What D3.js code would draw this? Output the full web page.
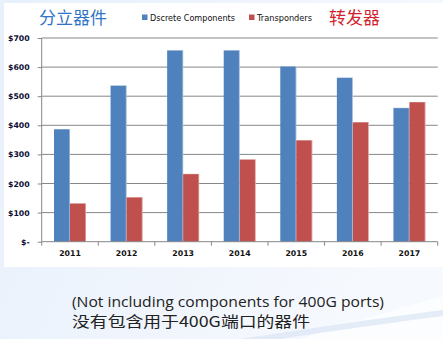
<!DOCTYPE html>
<html>
<head>
<meta charset="utf-8">
<script src="https://cdn.jsdelivr.net/npm/d3@7"></script>
<style>
  html, body { margin: 0; padding: 0; }
  body { width: 443px; height: 339px; overflow: hidden; }
  svg { display: block; }
</style>
</head>
<body>
<svg id="chart" width="443" height="339"></svg>
<script>
// Annual market size (US$ millions)
const years = ["2011", "2012", "2013", "2014", "2015", "2016", "2017"];
const discrete = [387, 537, 658, 658, 603, 564, 460];
const transponders = [132, 153, 233, 283, 349, 411, 480];
const seriesNames = ["Dscrete Components", "Transponders"];
const seriesColors = ["#4f81bd", "#c0504d"];
const yTicks = [0, 100, 200, 300, 400, 500, 600, 700];

const svg = d3.select("#chart");
const W = 443, H = 339;

// slide background
const defs = svg.append("defs");
const bg = defs.append("linearGradient").attr("id", "bg")
  .attr("x1", "0").attr("y1", "0").attr("x2", "1").attr("y2", "0.3");
bg.append("stop").attr("offset", "0").attr("stop-color", "#e8f0fb");
bg.append("stop").attr("offset", "1").attr("stop-color", "#f6f9fe");
svg.append("rect").attr("width", W).attr("height", H).attr("fill", "url(#bg)");
// light swoosh at the bottom right
svg.append("path")
  .attr("d", "M300,339 C360,320 410,305 443,296 L443,339 Z")
  .attr("fill", "#fbfdff");
svg.append("path")
  .attr("d", "M240,339 C300,330 380,318 443,310 L443,316 C380,324 320,333 280,339 Z")
  .attr("fill", "#dde7f5").attr("opacity", 0.8);

// chart panel
svg.append("rect").attr("x", 4).attr("y", 3).attr("width", W - 4).attr("height", 264)
  .attr("fill", "#ffffff");

const plot = { left: 41.7, right: 437.7, top: 38, bottom: 241.7 };

const x = d3.scaleBand().domain(years)
  .range([plot.left, plot.right])
  .paddingInner(0.435).paddingOuter(0.2175);
const xs = d3.scaleBand().domain([0, 1]).range([0, x.bandwidth()]);
const y = d3.scaleLinear().domain([0, 700]).range([plot.bottom, plot.top]);

// horizontal gridlines
svg.append("g").selectAll("line").data(yTicks.slice(1)).join("line")
  .attr("x1", plot.left).attr("x2", plot.right)
  .attr("y1", d => y(d)).attr("y2", d => y(d))
  .attr("stroke", "#878787").attr("stroke-width", 1);

// bars
const groups = svg.append("g").selectAll("g").data(years).join("g")
  .attr("transform", d => `translate(${x(d)},0)`);
[discrete, transponders].forEach((vals, si) => {
  groups.append("rect")
    .attr("x", xs(si))
    .attr("width", xs.bandwidth())
    .attr("y", (d, i) => y(vals[i]))
    .attr("height", (d, i) => y(0) - y(vals[i]))
    .attr("fill", seriesColors[si]);
  // soft highlight on the right edge and top of each bar
  groups.append("rect")
    .attr("x", xs(si) + xs.bandwidth() - 0.8)
    .attr("width", 1)
    .attr("y", (d, i) => y(vals[i]))
    .attr("height", (d, i) => y(0) - y(vals[i]))
    .attr("fill", "#ffffff").attr("opacity", 0.45);
  groups.append("rect")
    .attr("x", xs(si))
    .attr("width", xs.bandwidth())
    .attr("y", (d, i) => y(vals[i]) - 0.5)
    .attr("height", 1)
    .attr("fill", "#ffffff").attr("opacity", 0.35);
});

// y axis
const yAxis = d3.axisLeft(y).tickValues(yTicks).tickSize(4).tickPadding(8)
  .tickFormat(d => d === 0 ? "$-" : "$" + d);
const gy = svg.append("g").attr("transform", `translate(${plot.left},0)`).call(yAxis);
gy.select(".domain").attr("stroke", "#878787").attr("d", `M0,${plot.top}V${plot.bottom}`);
gy.selectAll(".tick line").attr("stroke", "#878787");
gy.selectAll("text").attr("fill", "#0d0d33")
  .style("font-family", "'DejaVu Sans', sans-serif").style("font-size", "7.8px")
  .style("font-weight", "bold");

// x axis
const xAxis = d3.axisBottom(x).tickSize(0).tickPadding(9);
const gx = svg.append("g").attr("transform", `translate(0,${plot.bottom})`).call(xAxis);
gx.select(".domain").attr("stroke", "#878787").attr("d", `M${plot.left},0H${plot.right}`);
gx.selectAll("text").attr("fill", "#111111")
  .style("font-family", "'DejaVu Sans', sans-serif").style("font-size", "7.8px")
  .style("font-weight", "bold");
// category boundary ticks
const bounds = years.map(d => x(d) - x.step() * x.paddingOuter()).concat([plot.right]);
gx.append("g").selectAll("line").data(bounds).join("line")
  .attr("x1", d => d).attr("x2", d => d).attr("y1", 0).attr("y2", 4)
  .attr("stroke", "#878787");

// titles and legend
svg.append("text").attr("x", 39).attr("y", 24)
  .attr("fill", "#2f74c6")
  .style("font-family", "'Noto Sans CJK SC', sans-serif").style("font-size", "17px")
  .text("分立器件");
svg.append("text").attr("x", 329).attr("y", 24)
  .attr("fill", "#d01f2e")
  .style("font-family", "'Noto Sans CJK SC', sans-serif").style("font-size", "17px")
  .text("转发器");

const legendX = [142, 249];
const legendW = [85, 55];
seriesNames.forEach((name, i) => {
  svg.append("rect").attr("x", legendX[i]).attr("y", 14.5).attr("width", 5.5).attr("height", 5.5)
    .attr("fill", seriesColors[i]);
  svg.append("text").attr("x", legendX[i] + 8).attr("y", 21)
    .attr("fill", "#111111")
    .attr("textLength", legendW[i]).attr("lengthAdjust", "spacingAndGlyphs")
    .style("font-family", "'DejaVu Sans', sans-serif").style("font-size", "8.5px")
    .text(name);
});

// footnote
svg.append("text").attr("x", 72).attr("y", 307)
  .attr("fill", "#222222")
  .attr("textLength", 312).attr("lengthAdjust", "spacingAndGlyphs")
  .style("font-family", "'Open Sans', sans-serif").style("font-size", "14px")
  .text("(Not including components for 400G ports)");
svg.append("text").attr("x", 72).attr("y", 327)
  .attr("fill", "#222222")
  .attr("textLength", 238).attr("lengthAdjust", "spacingAndGlyphs")
  .style("font-family", "'Noto Sans CJK SC', sans-serif").style("font-size", "15px")
  .text("没有包含用于400G端口的器件");
</script>
</body>
</html>
